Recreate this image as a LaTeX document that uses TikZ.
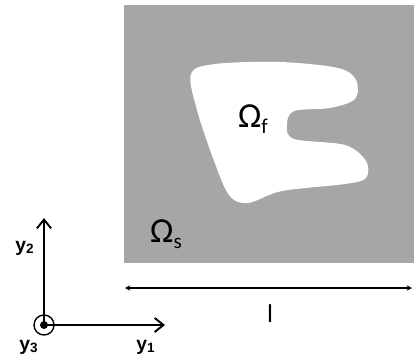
\documentclass[tikz,border=0pt]{standalone}
\usepackage{fontspec}
\setmainfont{Carlito}
\newfontfamily\axisfont{Liberation Sans}
\usetikzlibrary{arrows.meta,positioning}
\definecolor{solidgray}{RGB}{166,166,166}
\newcommand{\domsub}[1]{\raisebox{-0.35ex}{\fontsize{12}{14}\selectfont #1}}

\begin{document}
\begin{tikzpicture}[
      x=0.02cm, y=-0.02cm,
      dom/.style={font=\fontsize{20}{24}\selectfont, inner sep=0pt},
      ax/.style={-{Straight Barb[length=5pt,width=8pt]},line width=1.1pt},
      axl/.style={font=\axisfont\bfseries\fontsize{11}{13}\selectfont, inner sep=0pt},
      dim/.style={{Stealth[length=3pt,width=3pt]}-{Stealth[length=3pt,width=3pt]},line width=0.8pt},
    ]
    \useasboundingbox (0,0) rectangle (417,360);

    % ── Solid domain ───────────────────────────────────────────────────────
    \fill[solidgray] (124,5) rectangle (414,263);

    % ── Fluid inclusion ────────────────────────────────────────────────────
    \fill[white] plot[smooth cycle, tension=0.55] coordinates {
        (191,74) (215,64) (280,62) (338,68) (356,80) (355,99)
        (330,108) (294,111) (287,125) (294,139) (345,145) (366,161)
        (366,178) (345,184) (282,191) (248,203) (229,195) (213,158)
        (197,110)};

    % ── Labels of the domains ─────────────────────────────────────────────
    \node[dom] (omf) at (253,119) {Ω\domsub{f}};
    \node[dom] (oms) at (166,234) {Ω\domsub{s}};

    % ── Length of the cell ────────────────────────────────────────────────
    \coordinate (dl) at (125,288);
    \coordinate (dr) at (412,288);
    \draw[dim] (dl) -- (dr);
    \node[font=\axisfont\fontsize{14}{16}\selectfont] (len) at (270,314) {l};

    % ── Coordinate axes ───────────────────────────────────────────────────
    \coordinate (O) at (44,325);
    \coordinate (e1) at (165,325);
    \coordinate (e2) at (44,218);
    \draw[ax] (O) -- (e1);
    \draw[ax] (O) -- (e2);
    \draw[line width=0.8pt] (O) circle (10);
    \fill (O) circle (4);

    \node[axl] (y1) at (146,347) {y\textsubscript{1}};
    \node[axl] (y2) at (25,248) {y\textsubscript{2}};
    \node[axl] (y3) at (29,347) {y\textsubscript{3}};

  \end{tikzpicture}
\end{document}
